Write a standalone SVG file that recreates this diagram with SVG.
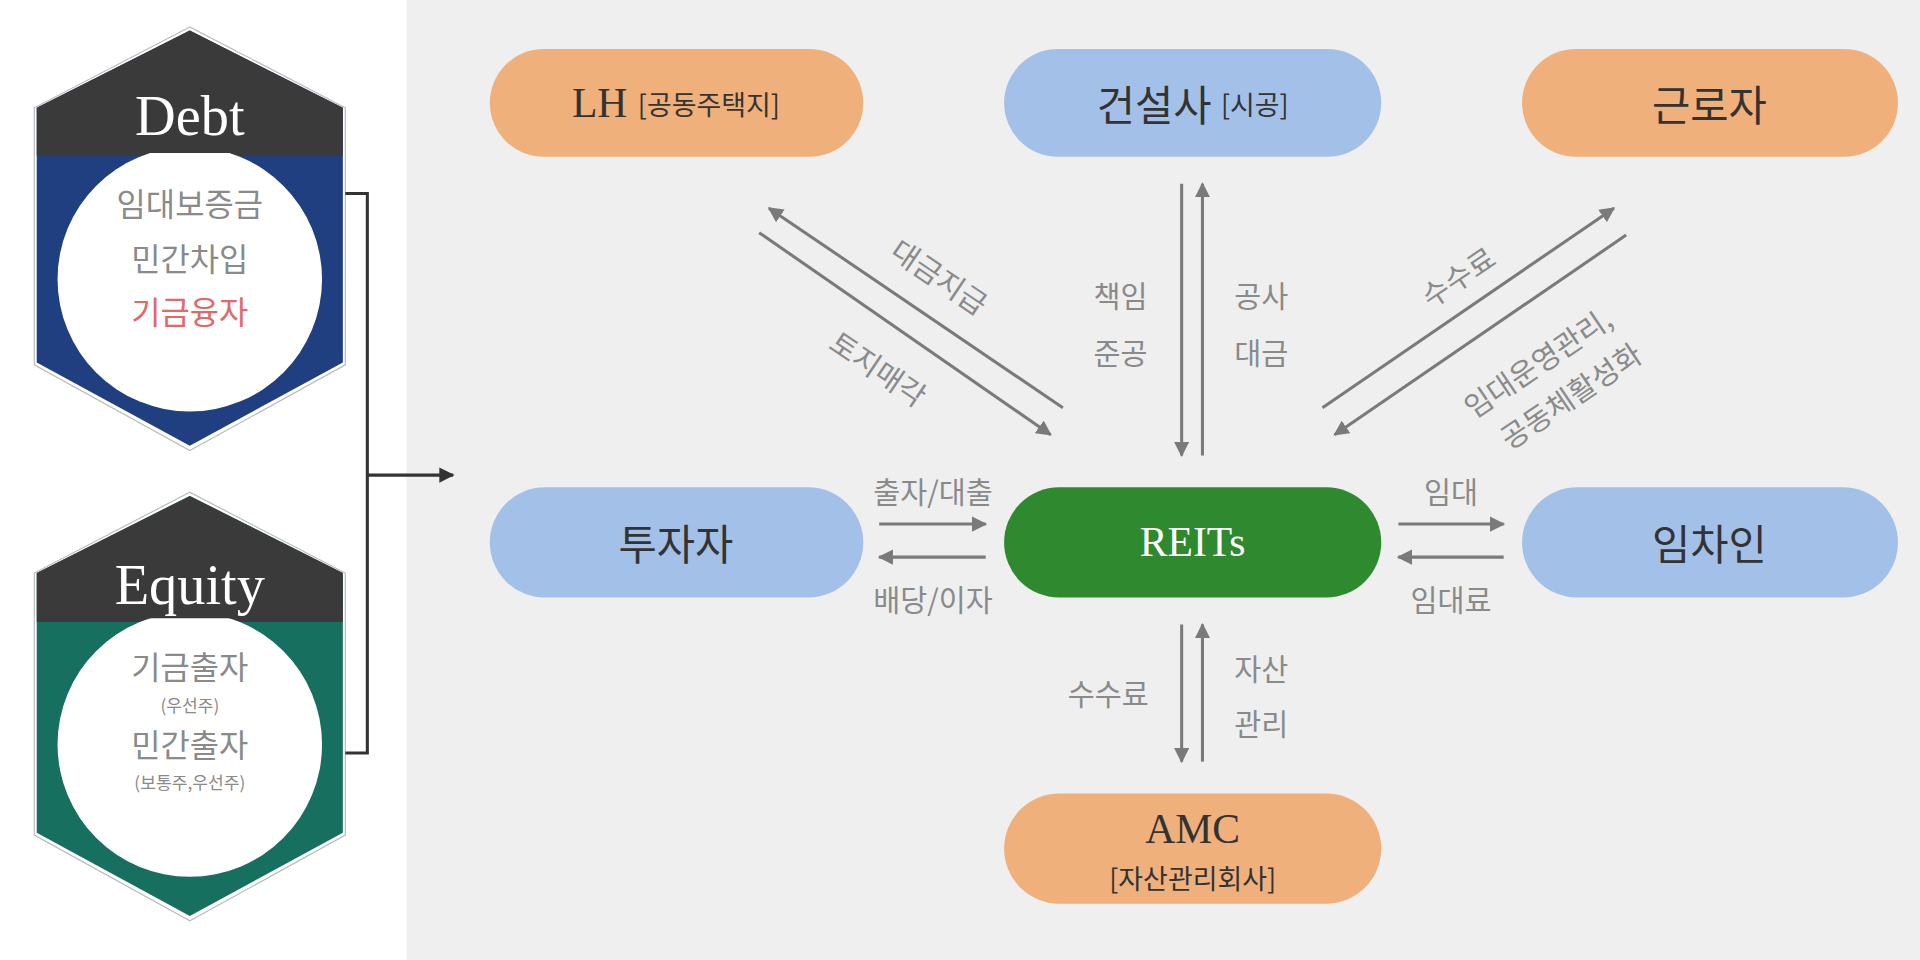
<svg xmlns="http://www.w3.org/2000/svg" width="1920" height="960" viewBox="0 0 1920 960">
<defs>
<marker id="ah" viewBox="0 0 10 10" refX="9" refY="5" markerWidth="5" markerHeight="5" orient="auto-start-reverse"><path d="M0,0 L10,5 L0,10 z" fill="#7a7a7a"/></marker>
<marker id="bh" viewBox="0 0 10 10" refX="9" refY="5" markerWidth="5" markerHeight="5" orient="auto"><path d="M0,0 L10,5 L0,10 z" fill="#333"/></marker>
<clipPath id="cd"><rect x="30" y="125" width="250" height="240"/></clipPath>
<clipPath id="ce"><rect x="30" y="505" width="250" height="245"/></clipPath>
</defs>
<style>
.node text{font-family:"Noto Sans CJK KR","Noto Sans",sans-serif;font-size:34px;fill:#333;text-anchor:middle;dominant-baseline:central}
.node .sm{font-size:22px}
.lbl{font-family:"Noto Sans CJK KR",sans-serif;font-size:24px;fill:#8a8a8a;text-anchor:middle;dominant-baseline:central}
.ln{stroke:#7a7a7a;stroke-width:2.5;fill:none;marker-end:url(#ah)}
.org{fill:#f0b07c}.blu{fill:#a3c1e8}
.hd{font-family:"Liberation Serif",serif;font-size:46px;fill:#fff;text-anchor:middle;dominant-baseline:central}
.in{font-family:"Noto Sans CJK KR",sans-serif;font-size:26px;fill:#8a8a8a;text-anchor:middle;dominant-baseline:central}
</style>
<rect width="1920" height="960" fill="#fff"/>
<g transform="scale(1.2245)">
<rect x="332" y="0" width="1236" height="784" fill="#efefef"/>
<g id="debt">
<polygon points="155,22 28,88 28,298 155,368 282,298 282,88" fill="#fff" stroke="#bbb" stroke-width="1"/>
<polygon points="155,25 30,88 30,296 155,364 280,296 280,88" fill="#1f3f80"/>
<polygon points="155,25 30,88 30,127 280,127 280,88" fill="#3a3a3a"/>
<circle cx="155" cy="228" r="108" fill="#fff" clip-path="url(#cd)"/>
<text class="hd" x="155" y="95">Debt</text>
<text class="in" x="155" y="165">임대보증금</text>
<text class="in" x="155" y="210">민간차입</text>
<text class="in" x="155" y="253" style="fill:#e06a6a">기금융자</text>
</g>
<g id="equity">
<polygon points="155,402 28,468 28,682 155,752 282,682 282,468" fill="#fff" stroke="#bbb" stroke-width="1"/>
<polygon points="155,405 30,468 30,680 155,748 280,680 280,468" fill="#17705f"/>
<polygon points="155,405 30,468 30,508 280,508 280,468" fill="#3a3a3a"/>
<circle cx="155" cy="608" r="108" fill="#fff" clip-path="url(#ce)"/>
<text class="hd" x="155" y="478">Equity</text>
<text class="in" x="155" y="543">기금출자</text>
<text class="in" x="155" y="575" style="font-size:14px">(우선주)</text>
<text class="in" x="155" y="607">민간출자</text>
<text class="in" x="155" y="638" style="font-size:14px">(보통주,우선주)</text>
</g>
<g id="connectors">
<path d="M282,158 H300 V615 H282" stroke="#333" stroke-width="2.5" fill="none"/>
<path d="M300,388 H370" stroke="#333" stroke-width="2.5" fill="none" marker-end="url(#bh)"/>
<path class="ln" d="M868,333 L628,170"/>
<path class="ln" d="M620,190 L858,355"/>
<path class="ln" d="M965,150 V372"/>
<path class="ln" d="M982,372 V150"/>
<path class="ln" d="M1080,333 L1318,170"/>
<path class="ln" d="M1328,192 L1090,355"/>
<path class="ln" d="M718,428 H805"/>
<path class="ln" d="M805,455 H718"/>
<path class="ln" d="M1142,428 H1228"/>
<path class="ln" d="M1228,455 H1142"/>
<path class="ln" d="M965,510 V622"/>
<path class="ln" d="M982,622 V510"/>
<text class="lbl" transform="translate(768,225) rotate(34)">대금지급</text>
<text class="lbl" transform="translate(718,300) rotate(34)">토지매각</text>
<text class="lbl" x="915" y="240">책임</text>
<text class="lbl" x="915" y="287">준공</text>
<text class="lbl" x="1030" y="240">공사</text>
<text class="lbl" x="1030" y="287">대금</text>
<text class="lbl" transform="translate(1190,225) rotate(-34)">수수료</text>
<text class="lbl" transform="translate(1255,295) rotate(-34)">임대운영관리,</text>
<text class="lbl" transform="translate(1282,322) rotate(-34)">공동체활성화</text>
<text class="lbl" x="762" y="400">출자/대출</text>
<text class="lbl" x="762" y="488">배당/이자</text>
<text class="lbl" x="1185" y="400">임대</text>
<text class="lbl" x="1185" y="488">임대료</text>
<text class="lbl" x="905" y="565">수수료</text>
<text class="lbl" x="1030" y="545">자산</text>
<text class="lbl" x="1030" y="590">관리</text>
</g>
<g id="lh" class="node"><rect class="org" x="400" y="40" width="305" height="88" rx="44"/><text x="552" y="84"><tspan style="font-family:'Liberation Serif',serif">LH </tspan><tspan class="sm">[공동주택지]</tspan></text></g>
<g id="builder" class="node"><rect class="blu" x="820" y="40" width="308" height="88" rx="44"/><text x="974" y="84">건설사 <tspan class="sm">[시공]</tspan></text></g>
<g id="worker" class="node"><rect class="org" x="1243" y="40" width="307" height="88" rx="44"/><text x="1396" y="84">근로자</text></g>
<g id="investor" class="node"><rect class="blu" x="400" y="398" width="305" height="90" rx="45"/><text x="552" y="443">투자자</text></g>
<g id="reits" class="node"><rect fill="#2f8a2f" x="820" y="398" width="308" height="90" rx="45"/><text x="974" y="443" style="fill:#fff;font-family:'Liberation Serif',serif">REITs</text></g>
<g id="tenant" class="node"><rect class="blu" x="1243" y="398" width="307" height="90" rx="45"/><text x="1396" y="443">임차인</text></g>
<g id="amc" class="node"><rect class="org" x="820" y="648" width="308" height="90" rx="45"/><text x="974" y="677" style="font-family:'Liberation Serif',serif">AMC</text><text class="sm" x="974" y="717">[자산관리회사]</text></g>
</g>
</svg>
